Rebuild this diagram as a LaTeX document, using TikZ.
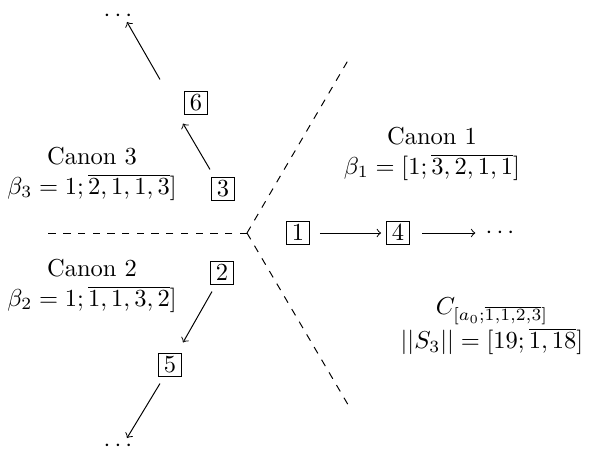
\documentclass[tikz,border=0pt]{standalone}
\usepackage{amsmath}
\begin{document}
\begin{tikzpicture}[x=0.408pt,y=-0.408pt,
  numbox/.style={draw,inner sep=0pt,minimum width=9.4pt,minimum height=9pt},
  dots/.style={inner sep=0pt},
  lbl/.style={align=center,inner sep=0pt},
  arr/.style={->},
  sep/.style={dashed}]
\useasboundingbox (0,0) rectangle (592,458);
\coordinate (c) at (247,233);
\coordinate (ul) at (48,233);
\coordinate (ur) at (350,57);
\coordinate (lr) at (350,408);
\draw[sep] (c) -- (ul);
\draw[sep] (c) -- (ur);
\draw[sep] (c) -- (lr);

\node[numbox] (n1) at (298,233) {$1$};
\node[numbox] (n4) at (398,233) {$4$};
\node[dots] (dr) at (502,233) {$\cdots$};
\node[numbox] (n3) at (223,189) {$3$};
\node[numbox] (n6) at (196,103) {$6$};
\node[dots] (du) at (120,16) {$\cdots$};
\node[numbox] (n2) at (222,273) {$2$};
\node[numbox] (n5) at (170,365) {$5$};
\node[dots] (dd) at (120,446) {$\cdots$};

\draw[arr] ([xshift=4pt]n1.east) -- ([xshift=-2pt]n4.west);
\draw[arr] ([xshift=5pt]n4.east) -- ([xshift=-4pt]dr.west);
\draw[arr] ([shift={(-13,-8)}]n3.north) -- ([shift={(-13,9)}]n6.south);
\draw[arr] ([shift={(-36,-12)}]n6.north) -- ([shift={(7,6)}]du.center);
\draw[arr] ([shift={(-10,7)}]n2.south) -- ([shift={(13,-11)}]n5.north);
\draw[arr] ([shift={(-10,7)}]n5.south) -- ([shift={(7,-8)}]dd.center);

\node[lbl] (l3) at (92,174) {Canon 3\\ $\beta_3 = 1;\overline{2,1,1,3}]$};
\node[lbl] (l2) at (92,286) {Canon 2\\ $\beta_2 = 1;\overline{1,1,3,2}]$};
\node[lbl] (l1) at (432,154) {Canon 1\\ $\beta_1 = [1;\overline{3,2,1,1}]$};
\node[lbl] (lc) at (492,326) {$C_{[a_0;\overline{1,1,2,3}]}$\\ $||S_3|| = [19;\overline{1,18}]$};
\end{tikzpicture}
\end{document}
